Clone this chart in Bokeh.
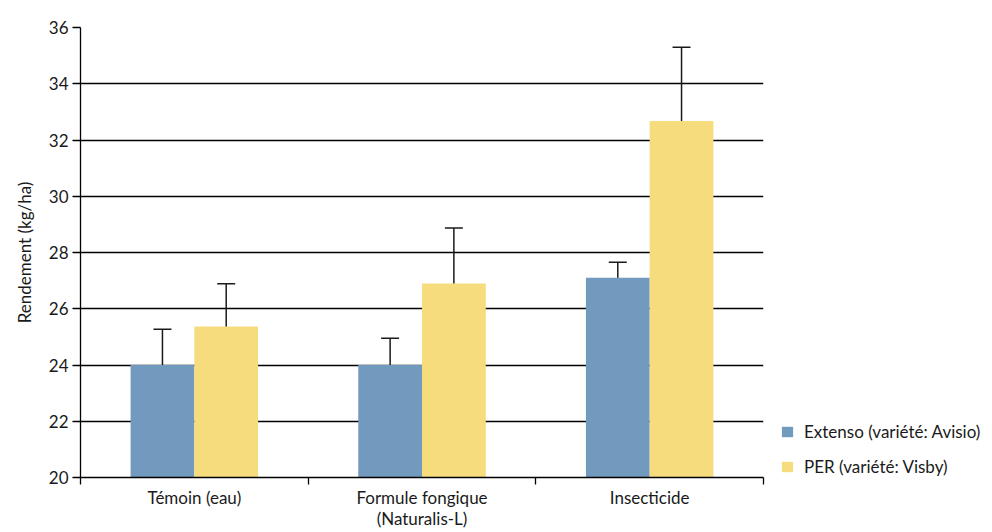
import numpy as np
from bokeh.plotting import figure
from bokeh.models import (ColumnDataSource, Whisker, TeeHead, FixedTicker,
                          Legend, LegendItem, Range1d, Title)
from bokeh.embed import file_html
from bokeh.resources import INLINE

# Rendement par traitement et par variété
traitements = ["Témoin (eau)", "Formule fongique\n(Naturalis-L)", "Insecticide"]
extenso = [24.0, 24.0, 27.1]
extenso_err = [1.27, 0.95, 0.55]
per = [25.37, 26.9, 32.68]
per_err = [1.52, 1.97, 2.62]
y_ticks = [20, 22, 24, 26, 28, 30, 32, 34, 36]

FONT = "Lato"
TXT = "#1a1a1a"
BLUE = "#7299be"
YELLOW = "#f6dc7c"

n = len(traitements)
centres = np.arange(n) + 0.5
bar_w = 0.28

src_ext = ColumnDataSource(dict(x=centres - bar_w / 2, top=extenso,
                                upper=np.array(extenso) + np.array(extenso_err)))
src_per = ColumnDataSource(dict(x=centres + bar_w / 2, top=per,
                                upper=np.array(per) + np.array(per_err)))

p = figure(frame_width=683, frame_height=450, output_backend="svg",
           toolbar_location=None,
           x_range=Range1d(0, n), y_range=Range1d(20, 36),
           min_border_left=80, min_border_right=229, min_border_top=27,
           min_border_bottom=54)
p.outline_line_color = None
p.background_fill_color = "white"

# grid
p.xgrid.grid_line_color = None
p.ygrid.ticker = FixedTicker(ticks=y_ticks)
p.ygrid.grid_line_color = "black"
p.ygrid.grid_line_width = 1.3

r_ext = p.vbar(x="x", top="top", bottom=20, width=bar_w, source=src_ext,
               fill_color=BLUE, line_color=None)
r_per = p.vbar(x="x", top="top", bottom=20, width=bar_w, source=src_per,
               fill_color=YELLOW, line_color=None)

for src in (src_ext, src_per):
    w = Whisker(base="x", lower="top", upper="upper", source=src,
                line_color=TXT, line_width=1.5, lower_head=None,
                upper_head=TeeHead(size=18, line_color=TXT, line_width=1.5),
                level="overlay")
    p.add_layout(w)

# y axis
ya = p.yaxis[0]
ya.ticker = FixedTicker(ticks=y_ticks)
ya.minor_tick_line_color = None
ya.major_tick_out = 8
ya.major_tick_in = 0
ya.major_tick_line_color = "black"
ya.major_tick_line_width = 1.3
ya.axis_line_color = "black"
ya.axis_line_width = 1.3
ya.major_label_text_font = FONT
ya.major_label_text_font_size = "17px"
ya.major_label_text_color = TXT
ya.major_label_standoff = 4

p.add_layout(Title(text="Rendement (kg/ha)", align="center", offset=10,
                   text_font=FONT, text_font_size="17px",
                   text_font_style="normal", text_color=TXT,
                   standoff=22), "left")

# x axis: labels at category centres, ticks at category boundaries
xa = p.xaxis[0]
xa.ticker = FixedTicker(ticks=list(centres), minor_ticks=list(np.arange(n + 1)))
xa.major_label_overrides = {float(c): t for c, t in zip(centres, traitements)}
xa.major_tick_line_color = None
xa.major_tick_out = 6
xa.minor_tick_out = 7
xa.minor_tick_in = 0
xa.minor_tick_line_color = "black"
xa.minor_tick_line_width = 1.3
xa.axis_line_color = "black"
xa.axis_line_width = 1.3
xa.major_label_text_font = FONT
xa.major_label_text_font_size = "17px"
xa.major_label_text_line_height = 1.0
xa.major_label_text_color = TXT
xa.major_label_standoff = 2

legend = Legend(items=[LegendItem(label="Extenso (variété: Avisio)", renderers=[r_ext]),
                       LegendItem(label="PER (variété: Visby)", renderers=[r_per])],
                location=(17, 0), padding=0, margin=0, spacing=14,
                glyph_width=14, glyph_height=13, label_standoff=10,
                label_text_font=FONT, label_text_font_size="17px",
                label_text_color=TXT, border_line_color=None,
                background_fill_alpha=0)
p.add_layout(legend, "right")

open("out.html", "w").write(file_html(p, INLINE))
